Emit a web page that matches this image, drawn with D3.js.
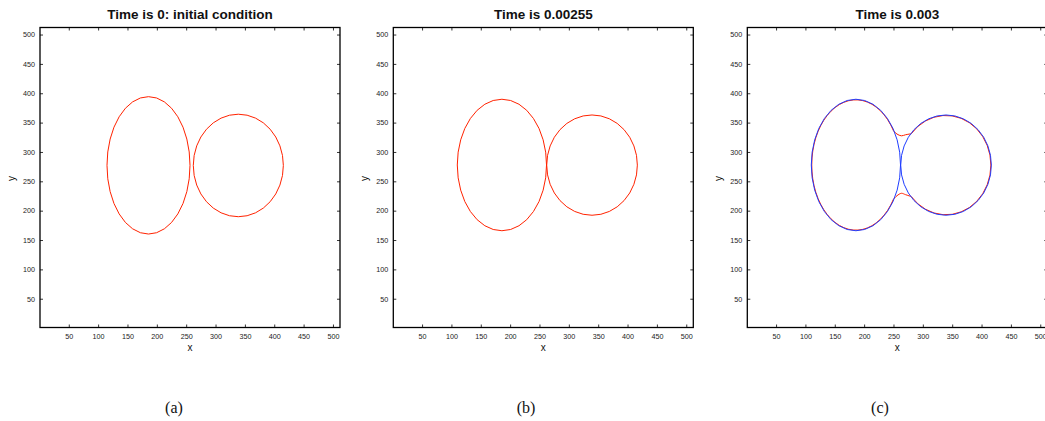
<!DOCTYPE html>
<html>
<head>
<meta charset="utf-8">
<script src="https://cdn.jsdelivr.net/npm/d3@7"></script>
<style>
  body { margin: 0; background: #fff; }
  svg { display: block; }
</style>
</head>
<body>
<div id="chart"></div>
<script>
const panelTitles = ["Time is 0: initial condition", "Time is 0.00255", "Time is 0.003"];
const panelCaptions = ["(a)", "(b)", "(c)"];
const xTicks = [50, 100, 150, 200, 250, 300, 350, 400, 450, 500];
const yTicks = [50, 100, 150, 200, 250, 300, 350, 400, 450, 500];

// ellipses, in grid units: [cx, cy, rx, ry]
const redA = [[185.8, 277.2, 70.7, 117], [338.8, 277, 76.7, 87.3]];
const redB = [[186, 277.8, 76, 112], [339.5, 277.6, 77.2, 85.4]];
const blueC = [[186, 277.8, 76, 112], [339.5, 277.6, 77.2, 85.4]];
const redC = [[186, 277.8, 75.2, 111], [339.5, 277.6, 76.4, 84.6]];
// merged red outline in (c): where the arcs leave each ellipse (y), and the neck points between them
const redCJoinTop = [336, 331];
const redCJoinBottom = [219.5, 224];
const redCNeckTop = [[256, 330.5], [263.5, 327.5], [270.5, 329.3]];
const redCNeckBottom = [[256, 225.5], [263.5, 229.6], [270.5, 227.3]];

const W = 1045, H = 421;
const panelLeft = [40, 393.3, 747.3];
const captionX = [174, 526, 880];
const plotTop = 27.5, size = 300;

const svg = d3.select("#chart").append("svg").attr("width", W).attr("height", H);
const font = "'Liberation Sans', Arial, Helvetica, sans-serif";

panelTitles.forEach((title, i) => {
  const g = svg.append("g").attr("transform", `translate(${panelLeft[i]},${plotTop})`);
  const x = d3.scaleLinear().domain([1, 512]).range([0, size]);
  const y = d3.scaleLinear().domain([1, 512]).range([size, 0]);

  // ticks inside the box on all four sides
  const tl = 3;
  g.append("g").attr("transform", `translate(0,${size})`)
    .call(d3.axisBottom(x).tickValues(xTicks).tickSizeInner(-tl).tickSizeOuter(0).tickPadding(6))
    .call(a => a.select(".domain").remove());
  g.append("g")
    .call(d3.axisTop(x).tickValues(xTicks).tickSizeInner(-tl).tickSizeOuter(0).tickFormat(""))
    .call(a => a.select(".domain").remove());
  g.append("g")
    .call(d3.axisLeft(y).tickValues(yTicks).tickSizeInner(-tl).tickSizeOuter(0).tickPadding(5))
    .call(a => a.select(".domain").remove());
  g.append("g").attr("transform", `translate(${size},0)`)
    .call(d3.axisRight(y).tickValues(yTicks).tickSizeInner(-tl).tickSizeOuter(0).tickFormat(""))
    .call(a => a.select(".domain").remove());
  g.selectAll(".tick line").attr("stroke", "#000").attr("stroke-width", 0.8);
  g.selectAll(".tick text").attr("font-family", font).attr("font-size", "7.2px").attr("fill", "#222");

  g.append("rect").attr("width", size).attr("height", size)
    .attr("fill", "none").attr("stroke", "#000").attr("stroke-width", 1.3);

  const drawEllipses = (list, color) => {
    g.append("g").selectAll("ellipse").data(list).join("ellipse")
      .attr("cx", d => x(d[0])).attr("cy", d => y(d[1]))
      .attr("rx", d => x(d[0] + d[2]) - x(d[0]))
      .attr("ry", d => y(d[1]) - y(d[1] + d[3]))
      .attr("fill", "none").attr("stroke", color).attr("stroke-width", 1);
  };

  if (i === 0) drawEllipses(redA, "#ff2200");
  if (i === 1) drawEllipses(redB, "#ff2200");
  if (i === 2) {
    const onEllipse = (e, yy, side) =>
      [e[0] + side * e[2] * Math.sqrt(Math.max(0, 1 - ((yy - e[1]) / e[3]) ** 2)), yy];
    const L = redC[0], R = redC[1];
    const lt = onEllipse(L, redCJoinTop[0], 1), lb = onEllipse(L, redCJoinBottom[0], 1);
    const rt = onEllipse(R, redCJoinTop[1], -1), rb = onEllipse(R, redCJoinBottom[1], -1);
    const arc = (e, from, to) => {
      const rx = x(e[0] + e[2]) - x(e[0]), ry = y(e[1]) - y(e[1] + e[3]);
      return `M${x(from[0])},${y(from[1])}A${rx},${ry} 0 1 0 ${x(to[0])},${y(to[1])}`;
    };
    const line = d3.line().x(d => x(d[0])).y(d => y(d[1])).curve(d3.curveCatmullRom);
    const red = g.append("g").attr("fill", "none").attr("stroke", "#ff2200").attr("stroke-width", 1);
    red.append("path").attr("d", arc(L, lt, lb));
    red.append("path").attr("d", arc(R, rb, rt));
    red.append("path").attr("d", line([lt, ...redCNeckTop, rt]));
    red.append("path").attr("d", line([lb, ...redCNeckBottom, rb]));
    drawEllipses(blueC, "#1f3dff");
  }

  svg.append("text").attr("x", panelLeft[i] + size / 2).attr("y", 19)
    .attr("text-anchor", "middle").attr("font-family", font)
    .attr("font-weight", "bold").attr("font-size", "13.5px").attr("fill", "#111")
    .text(title);
  svg.append("text").attr("x", panelLeft[i] + size / 2).attr("y", 350.5)
    .attr("text-anchor", "middle").attr("font-family", font)
    .attr("font-size", "10px").attr("fill", "#111").text("x");
  svg.append("text")
    .attr("transform", `translate(${panelLeft[i] - 25},${plotTop + size / 2 + 1}) rotate(-90)`)
    .attr("text-anchor", "middle").attr("font-family", font)
    .attr("font-size", "10px").attr("fill", "#111").text("y");
  svg.append("text").attr("x", captionX[i]).attr("y", 413)
    .attr("text-anchor", "middle").attr("font-family", "'Liberation Serif', 'Times New Roman', serif")
    .attr("font-size", "16px").attr("fill", "#111").text(panelCaptions[i]);
});
</script>
</body>
</html>
